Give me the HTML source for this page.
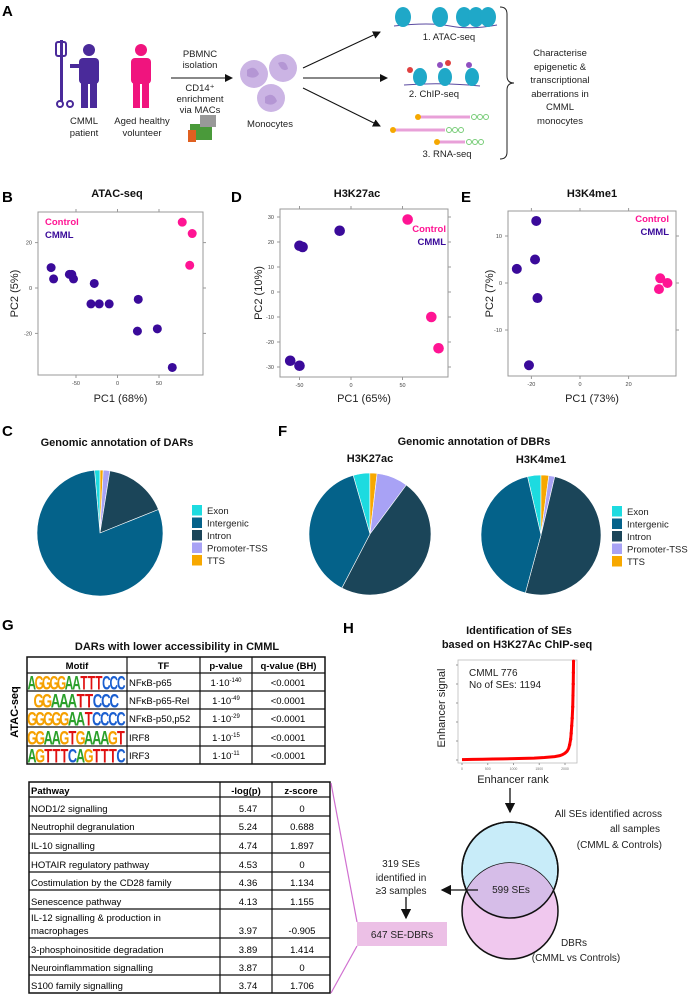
<!DOCTYPE html>
<html><head><meta charset="utf-8">
<style>
html,body{margin:0;padding:0;background:#fff;}
svg{display:block;font-family:"Liberation Sans",Arial,sans-serif;}
.lbl{font-weight:bold;font-size:15px;fill:#000;}
.t9{font-size:9.5px;fill:#222;}
.ttl{font-size:11px;font-weight:bold;fill:#111;}
.tick{font-size:5.5px;fill:#444;}
.ax{font-size:11px;fill:#222;}
</style></head>
<body>
<svg id="fig" width="689" height="995" viewBox="0 0 689 995" xmlns="http://www.w3.org/2000/svg">
<defs>
<marker id="ah" markerWidth="8" markerHeight="8" refX="7" refY="4" orient="auto"><path d="M0,0 L8,4 L0,8 z" fill="#111"/></marker>
</defs>

<g>
<text class="lbl" x="2" y="16">A</text>
<g fill="#4a2a9a">
<rect x="60" y="40" width="3" height="62"/><rect x="56" y="42" width="10" height="14" rx="2" fill="none" stroke="#4a2a9a" stroke-width="2"/>
<circle cx="60" cy="104" r="3" fill="none" stroke="#4a2a9a" stroke-width="2"/><circle cx="70" cy="104" r="3" fill="none" stroke="#4a2a9a" stroke-width="2"/>
<circle cx="89" cy="50" r="6"/><rect x="79" y="58" width="20" height="26" rx="4"/><rect x="81" y="82" width="7" height="26"/><rect x="90" y="82" width="7" height="26"/><rect x="70" y="64" width="12" height="4"/>
</g>
<g fill="#f0147e">
<circle cx="141" cy="50" r="6"/><rect x="131" y="58" width="20" height="26" rx="4"/><rect x="133" y="82" width="7" height="26"/><rect x="142" y="82" width="7" height="26"/>
</g>
<text class="t9" x="84" y="124" text-anchor="middle">CMML</text><text class="t9" x="84" y="136" text-anchor="middle">patient</text>
<text class="t9" x="142" y="124" text-anchor="middle">Aged healthy</text><text class="t9" x="142" y="136" text-anchor="middle">volunteer</text>
<text class="t9" x="200" y="57" text-anchor="middle">PBMNC</text><text class="t9" x="200" y="68" text-anchor="middle">isolation</text>
<line x1="171" y1="78" x2="232" y2="78" stroke="#111" stroke-width="1" marker-end="url(#ah)"/>
<text class="t9" x="200" y="91" text-anchor="middle">CD14⁺</text><text class="t9" x="200" y="102" text-anchor="middle">enrichment</text><text class="t9" x="200" y="113" text-anchor="middle">via MACs</text>
<g><rect x="190" y="124" width="22" height="16" fill="#4a9a3a"/><rect x="200" y="115" width="16" height="12" fill="#999"/><rect x="188" y="130" width="8" height="12" fill="#e06020"/></g>
<g fill="#cbb4e4">
<circle cx="254" cy="74" r="14"/><circle cx="283" cy="68" r="14"/><circle cx="271" cy="98" r="14"/>
<path d="M247,70 q8,-6 12,4 q-4,6 -12,2z" fill="#b496d4"/><path d="M278,63 q8,-4 10,6 q-6,4 -10,-6z" fill="#b496d4"/><path d="M265,97 q8,-6 12,4 q-4,6 -12,2z" fill="#b496d4"/>
</g>
<text class="t9" x="270" y="127" text-anchor="middle">Monocytes</text>
<line x1="303" y1="68" x2="380" y2="32" stroke="#111" marker-end="url(#ah)"/>
<line x1="303" y1="78" x2="387" y2="78" stroke="#111" marker-end="url(#ah)"/>
<line x1="303" y1="88" x2="380" y2="126" stroke="#111" marker-end="url(#ah)"/>
<g>
<path d="M394,26 Q430,22 450,26 T497,25" stroke="#5a4aa0" fill="none"/>
<ellipse cx="403" cy="17" rx="8" ry="10" fill="#1fa8c8"/><ellipse cx="440" cy="17" rx="8" ry="10" fill="#1fa8c8"/><ellipse cx="464" cy="17" rx="8" ry="10" fill="#1fa8c8"/><ellipse cx="476" cy="17" rx="8" ry="10" fill="#1fa8c8"/><ellipse cx="488" cy="17" rx="8" ry="10" fill="#1fa8c8"/>
</g>
<text class="t9" x="449" y="40" text-anchor="middle">1.  ATAC-seq</text>
<g>
<path d="M404,85 Q440,82 480,86" stroke="#5a4aa0" fill="none"/>
<ellipse cx="420" cy="77" rx="7" ry="9" fill="#1fa8c8"/><ellipse cx="445" cy="77" rx="7" ry="9" fill="#1fa8c8"/><ellipse cx="472" cy="77" rx="7" ry="9" fill="#1fa8c8"/>
<circle cx="410" cy="70" r="3" fill="#e04040"/><circle cx="440" cy="65" r="3" fill="#9050c0"/><circle cx="448" cy="63" r="3" fill="#e04040"/><circle cx="469" cy="65" r="3" fill="#9050c0"/>
</g>
<text class="t9" x="434" y="97" text-anchor="middle">2. ChIP-seq</text>
<g>
<line x1="418" y1="117" x2="470" y2="117" stroke="#e8a0d8" stroke-width="3"/><circle cx="418" cy="117" r="3" fill="#f5a800"/><circle cx="474" cy="117" r="2.5" fill="none" stroke="#7c7"/><circle cx="480" cy="117" r="2.5" fill="none" stroke="#7c7"/><circle cx="486" cy="117" r="2.5" fill="none" stroke="#7c7"/>
<line x1="393" y1="130" x2="445" y2="130" stroke="#e8a0d8" stroke-width="3"/><circle cx="393" cy="130" r="3" fill="#f5a800"/><circle cx="449" cy="130" r="2.5" fill="none" stroke="#7c7"/><circle cx="455" cy="130" r="2.5" fill="none" stroke="#7c7"/><circle cx="461" cy="130" r="2.5" fill="none" stroke="#7c7"/>
<line x1="437" y1="142" x2="465" y2="142" stroke="#e8a0d8" stroke-width="3"/><circle cx="437" cy="142" r="3" fill="#f5a800"/><circle cx="469" cy="142" r="2.5" fill="none" stroke="#7c7"/><circle cx="475" cy="142" r="2.5" fill="none" stroke="#7c7"/><circle cx="481" cy="142" r="2.5" fill="none" stroke="#7c7"/>
</g>
<text class="t9" x="447" y="157" text-anchor="middle">3. RNA-seq</text>
<path d="M500,7 Q507,7 507,14 L507,76 Q507,83 514,83 Q507,83 507,90 L507,152 Q507,159 500,159" fill="none" stroke="#222" stroke-width="1"/>
<g>
<text class="t9" x="560" y="56" text-anchor="middle">Characterise</text><text class="t9" x="560" y="70" text-anchor="middle">epigenetic &amp;</text><text class="t9" x="560" y="83" text-anchor="middle">transcriptional</text><text class="t9" x="560" y="97" text-anchor="middle">aberrations in</text><text class="t9" x="560" y="110" text-anchor="middle">CMML</text><text class="t9" x="560" y="124" text-anchor="middle">monocytes</text>
</g>
</g>

<text class="lbl" x="2" y="202">B</text>
<text class="lbl" x="231" y="202">D</text>
<text class="lbl" x="461" y="202">E</text>
<text class="lbl" x="2" y="436">C</text>
<text class="lbl" x="278" y="436">F</text>
<text class="lbl" x="2" y="630">G</text>
<text class="lbl" x="343" y="633">H</text>

<g id="scatters"></g>
<g id="pies"></g>

<text class="ttl" x="177" y="650" text-anchor="middle">DARs with lower accessibility in CMML</text>
<text x="18" y="712" transform="rotate(-90 18 712)" text-anchor="middle" style="font-size:11px;font-weight:bold">ATAC-seq</text>
<g id="motifTable"></g>
<g id="pathTable"></g>

<text class="ttl" x="519" y="634" text-anchor="middle">Identification of SEs</text>
<text class="ttl" x="517" y="648" text-anchor="middle">based on H3K27Ac ChIP-seq</text>
<g id="enh"></g>
<line x1="510" y1="788" x2="510" y2="812" stroke="#111" stroke-width="1.3" marker-end="url(#ah)"/>
<g>
<circle cx="510" cy="870" r="48" fill="#c8ecf9" stroke="#111" stroke-width="1.5"/>
<circle cx="510" cy="911" r="48" fill="#f0c8ee" stroke="#111" stroke-width="1.5"/>
<clipPath id="vc"><circle cx="510" cy="870" r="48"/></clipPath>
<circle cx="510" cy="911" r="48" fill="#d6bde8" clip-path="url(#vc)"/>
<circle cx="510" cy="870" r="48" fill="none" stroke="#111" stroke-width="1.5"/>
<text class="t9" x="511" y="893" text-anchor="middle" style="font-size:10px">599 SEs</text>
<text class="t9" x="662" y="817" text-anchor="end" style="font-size:10px">All SEs identified across</text>
<text class="t9" x="660" y="832" text-anchor="end" style="font-size:10px">all samples</text>
<text class="t9" x="662" y="848" text-anchor="end" style="font-size:10px">(CMML &amp; Controls)</text>
<text class="t9" x="574" y="946" text-anchor="middle" style="font-size:10px">DBRs</text>
<text class="t9" x="576" y="961" text-anchor="middle" style="font-size:10px">(CMML vs Controls)</text>
</g>
<line x1="478" y1="890" x2="442" y2="890" stroke="#111" stroke-width="1.3" marker-end="url(#ah)"/>
<text class="t9" x="401" y="867" text-anchor="middle" style="font-size:10px">319 SEs</text>
<text class="t9" x="401" y="881" text-anchor="middle" style="font-size:10px">identified in</text>
<text class="t9" x="401" y="894" text-anchor="middle" style="font-size:10px">≥3 samples</text>
<line x1="406" y1="897" x2="406" y2="918" stroke="#111" stroke-width="1.3" marker-end="url(#ah)"/>
<rect x="357" y="922" width="90" height="24" fill="#ecc0e6"/>
<text class="t9" x="402" y="938" text-anchor="middle" style="font-size:10px">647 SE-DBRs</text>
<line x1="331" y1="783" x2="357" y2="922" stroke="#d070d0" stroke-width="1.2"/>
<line x1="331" y1="993" x2="357" y2="946" stroke="#d070d0" stroke-width="1.2"/>
</svg>

<script>
var NS="http://www.w3.org/2000/svg";
function mk(parent,tag,attrs,text){var e=document.createElementNS(NS,tag);for(var k in attrs)e.setAttribute(k,attrs[k]);if(text!==undefined)e.textContent=text;parent.appendChild(e);return e;}

var atacCmmlPC1=[-80,-77,-58,-55,-53,-28,-32,-22,-10,25,24,48,66];
var atacCmmlPC2=[9,4,6,6,4,2,-7,-7,-7,-5,-19,-18,-35];
var atacCtrlPC1=[78,90,87];
var atacCtrlPC2=[29,24,10];
var k27CmmlPC1=[-50,-47,-11,-59,-50];
var k27CmmlPC2=[18.5,18,24.5,-27.5,-29.5];
var k27CtrlPC1=[55,78,85];
var k27CtrlPC2=[29,-10,-22.5];
var k4CmmlPC1=[-18,-18.5,-26,-17.5,-21];
var k4CmmlPC2=[13.2,5,3,-3.2,-17.5];
var k4CtrlPC1=[33,36,32.5];
var k4CtrlPC2=[1,0,-1.3];
var atacXTicks=[-50,0,50], atacYTicks=[-20,0,20];
var k27XTicks=[-50,0,50], k27YTicks=[-30,-20,-10,0,10,20,30];
var k4XTicks=[-20,0,20], k4YTicks=[-10,0,10];

function scatter(cfg){
  var g=mk(document.getElementById('scatters'),'g',{});
  
  
  var b=cfg.box;
  function sx(v){return cfg.x0+v*cfg.kx;}
  function sy(v){return cfg.y0-v*cfg.ky;}
  var t=mk(g,'text',{x:cfg.tx,y:197,'text-anchor':'middle','class':'ttl'},cfg.title);
  
  
  mk(g,'rect',{x:b[0],y:b[1],width:b[2]-b[0],height:b[3]-b[1],fill:'none',stroke:'#999','stroke-width':1});
  cfg.xt.forEach(function(v){var x=sx(v);
    mk(g,'line',{x1:x,y1:b[3],x2:x,y2:b[3]+3,stroke:'#999'});
    mk(g,'line',{x1:x,y1:b[1],x2:x,y2:b[1]-3,stroke:'#999'});
    mk(g,'text',{x:x,y:b[3]+10,'text-anchor':'middle','class':'tick'},String(v));});
  cfg.yt.forEach(function(v){var y=sy(v);
    mk(g,'line',{x1:b[0],y1:y,x2:b[0]-3,y2:y,stroke:'#999'});
    mk(g,'line',{x1:b[2],y1:y,x2:b[2]+3,y2:y,stroke:'#999'});
    mk(g,'text',{x:b[0]-6,y:y+2,'text-anchor':'end','class':'tick'},String(v));});
  var xl=mk(g,'text',{x:(b[0]+b[2])/2,y:402,'text-anchor':'middle','class':'ax'},cfg.xlab);
  
  
  var yx=cfg.ylx, yy=(b[1]+b[3])/2;
  var yl=mk(g,'text',{x:yx,y:yy,'text-anchor':'middle','class':'ax',transform:'rotate(-90 '+yx+' '+yy+')'},cfg.ylab);
  
  
  cfg.cx.forEach(function(v,i){var c=mk(g,'circle',{cx:sx(v),cy:sy(cfg.cy[i]),r:cfg.r,fill:'#3a0a9a'});
    
    });
  cfg.kxs.forEach(function(v,i){var c=mk(g,'circle',{cx:sx(v),cy:sy(cfg.kys[i]),r:cfg.r,fill:'#ff1493'});
    
    });
  var l1=mk(g,'text',{x:cfg.lx,y:cfg.ly,'text-anchor':cfg.la,style:'font-size:9.5px;font-weight:bold;fill:#ff1493'},'Control');
  
  
  var l2=mk(g,'text',{x:cfg.lx,y:cfg.ly+13,'text-anchor':cfg.la,style:'font-size:9.5px;font-weight:bold;fill:#3a0a9a'},'CMML');
  
  
}
scatter({name:'atac-pca',title:'ATAC-seq',tx:117,box:[38,212,203,375],x0:117.5,kx:0.83,y0:288,ky:2.27,xt:atacXTicks,yt:atacYTicks,xlab:'PC1 (68%)',ylab:'PC2 (5%)',ylx:18,cx:atacCmmlPC1,cy:atacCmmlPC2,kxs:atacCtrlPC1,kys:atacCtrlPC2,r:4.5,lx:45,ly:225,la:'start'});
scatter({name:'h3k27ac-pca',title:'H3K27ac',tx:357,box:[280,209,448,377],x0:351,kx:1.03,y0:292,ky:2.5,xt:k27XTicks,yt:k27YTicks,xlab:'PC1 (65%)',ylab:'PC2 (10%)',ylx:262,cx:k27CmmlPC1,cy:k27CmmlPC2,kxs:k27CtrlPC1,kys:k27CtrlPC2,r:5.3,lx:446,ly:232,la:'end'});
scatter({name:'h3k4me1-pca',title:'H3K4me1',tx:592,box:[508,211,676,376],x0:580,kx:2.43,y0:283,ky:4.7,xt:k4XTicks,yt:k4YTicks,xlab:'PC1 (73%)',ylab:'PC2 (7%)',ylx:493,cx:k4CmmlPC1,cy:k4CmmlPC2,kxs:k4CtrlPC1,kys:k4CtrlPC2,r:5,lx:669,ly:222,la:'end'});

var annotCategories=['Exon','Intergenic','Intron','Promoter-TSS','TTS'];
var annotColors=['#1ddbe0','#04628a','#1b4559','#a8a2f5','#f7a800'];
var darPct=[1.4,79.7,16.4,1.7,0.8];
var k27Pct=[4.4,37.9,47.5,8.3,1.9];
var k4Pct=[3.6,42.2,50.5,1.6,2.1];
var drawOrder=[0,4,3,2,1];

function pie(cfg){
  var g=mk(document.getElementById('pies'),'g',{});
  
  
  var total=cfg.vals.reduce(function(a,b){return a+b;},0);
  var a=cfg.start*Math.PI/180;
  drawOrder.forEach(function(i){
    var sweep=cfg.vals[i]/total*2*Math.PI;
    var x1=cfg.cx+cfg.r*Math.sin(a),y1=cfg.cy-cfg.r*Math.cos(a);
    var a2=a+sweep;
    var x2=cfg.cx+cfg.r*Math.sin(a2),y2=cfg.cy-cfg.r*Math.cos(a2);
    var p=mk(g,'path',{d:'M'+cfg.cx+','+cfg.cy+' L'+x1+','+y1+' A'+cfg.r+','+cfg.r+' 0 '+(sweep>Math.PI?1:0)+' 1 '+x2+','+y2+' Z',fill:annotColors[i],stroke:'#fff','stroke-width':0.6});
    
    
    a=a2;
  });
  if(cfg.sub){var s=mk(g,'text',{x:cfg.cx,y:cfg.cy-72,'text-anchor':'middle','class':'ttl'},cfg.sub);
    
    }
}
function legend(x,y){
  var g=mk(document.getElementById('pies'),'g',{});
  
  
  annotCategories.forEach(function(c,i){
    var e=mk(g,'g',{});
    
    
    mk(e,'rect',{x:x,y:y+i*12.5-5,width:10,height:10.5,fill:annotColors[i]});
    mk(e,'text',{x:x+15,y:y+i*12.5+4,style:'font-size:9.5px;fill:#222'},c);
  });
}
var ct=mk(document.getElementById('pies'),'text',{x:117,y:446,'text-anchor':'middle','class':'ttl'},'Genomic annotation of DARs');


var ft=mk(document.getElementById('pies'),'text',{x:474,y:445,'text-anchor':'middle','class':'ttl'},'Genomic annotation of DBRs');


pie({name:'dar-pie',vals:darPct,cx:100,cy:533,r:63,start:-5});
pie({name:'h3k27ac-pie',vals:k27Pct,cx:370,cy:534,r:61,start:-16,sub:'H3K27ac'});
pie({name:'h3k4me1-pie',vals:k4Pct,cx:541,cy:535,r:60,start:-13,sub:'H3K4me1'});
legend(192,510);
legend(612,511);

var motifSeqs=['AGGGGAATTTCCC','GGAAATTCCC','GGGGGAATCCCC','GGAAGTGAAAGT','AGTTTCAGTTTC'];
var motifTFs=['NFκB-p65','NFκB-p65-Rel','NFκB-p50,p52','IRF8','IRF3'];
var motifExp=['-140','-49','-29','-15','-11'];
var motifQ=['<0.0001','<0.0001','<0.0001','<0.0001','<0.0001'];
(function(){
  var g=document.getElementById('motifTable');
  var cols=[27,127,200,252,325], rows=[657,673,691,709,727,746,764];
  mk(g,'rect',{x:27,y:657,width:298,height:107,fill:'#fff',stroke:'#111','stroke-width':1.5});
  rows.slice(1,-1).forEach(function(y){mk(g,'line',{x1:27,y1:y,x2:325,y2:y,stroke:'#111','stroke-width':1.2});});
  cols.slice(1,-1).forEach(function(x){mk(g,'line',{x1:x,y1:657,x2:x,y2:764,stroke:'#111','stroke-width':1.2});});
  ['Motif','TF','p-value','q-value (BH)'].forEach(function(h,i){mk(g,'text',{x:(cols[i]+cols[i+1])/2,y:669,'text-anchor':'middle',style:'font-size:9.5px;font-weight:bold'},h);});
  var col={A:'#2aa02a',C:'#1a5fd0',G:'#f5a000',T:'#e01010'};
  motifSeqs.forEach(function(s,r){
    var y1=rows[r+2];
    var n=s.length, w=(n<=10?84:97), cw=w/n, x0=28+(97-w)/2;
    var mg=mk(g,'g',{});
    
    
    var sxs=cw/12;
    for(var i=0;i<n;i++){
      mk(mg,'text',{x:0,y:0,'text-anchor':'middle',style:'font-size:19px;font-weight:bold;fill:'+col[s[i]],transform:'translate('+(x0+cw*i+cw/2)+','+(y1-1.5)+') scale('+sxs+',1)'},s[i]);
    }
    mk(g,'text',{x:129,y:y1-5,style:'font-size:9.5px'},motifTFs[r]);
    var pv=mk(g,'text',{x:226,y:y1-5,'text-anchor':'middle',style:'font-size:9.5px'},'1·10');
    mk(pv,'tspan',{dy:-4,style:'font-size:6px'},motifExp[r]);
    mk(g,'text',{x:288,y:y1-5,'text-anchor':'middle',style:'font-size:9.5px'},motifQ[r]);
  });
})();

var pathNames=['NOD1/2 signalling','Neutrophil degranulation','IL-10 signalling','HOTAIR regulatory pathway','Costimulation by the CD28 family','Senescence pathway','IL-12 signalling & production in|macrophages','3-phosphoinositide degradation','Neuroinflammation signalling','S100 family signalling'];
var pathLogP=['5.47','5.24','4.74','4.53','4.36','4.13','3.97','3.89','3.87','3.74'];
var pathZ=['0','0.688','1.897','0','1.134','1.155','-0.905','1.414','0','1.706'];
(function(){
  var g=document.getElementById('pathTable');
  var rows=[782,797,816,834,853,872,890,909,938,957,975,993];
  var cols=[29,220,272,330];
  mk(g,'rect',{x:29,y:782,width:301,height:211,fill:'#fff',stroke:'#111','stroke-width':1.5});
  rows.slice(1,-1).forEach(function(y){mk(g,'line',{x1:29,y1:y,x2:330,y2:y,stroke:'#111','stroke-width':1.2});});
  cols.slice(1,-1).forEach(function(x){mk(g,'line',{x1:x,y1:782,x2:x,y2:993,stroke:'#111','stroke-width':1.2});});
  mk(g,'text',{x:31,y:794,style:'font-size:9.5px;font-weight:bold'},'Pathway');
  mk(g,'text',{x:246,y:794,'text-anchor':'middle',style:'font-size:9.5px;font-weight:bold'},'-log(p)');
  mk(g,'text',{x:301,y:794,'text-anchor':'middle',style:'font-size:9.5px;font-weight:bold'},'z-score');
  pathNames.forEach(function(n,i){
    var yb=rows[i+2]-4, parts=n.split('|');
    if(parts.length>1){mk(g,'text',{x:31,y:yb-13,style:'font-size:9.5px'},parts[0]);mk(g,'text',{x:31,y:yb,style:'font-size:9.5px'},parts[1]);}
    else mk(g,'text',{x:31,y:yb,style:'font-size:9.5px'},n);
    mk(g,'text',{x:248,y:yb,'text-anchor':'middle',style:'font-size:9.5px'},pathLogP[i]);
    mk(g,'text',{x:302,y:yb,'text-anchor':'middle',style:'font-size:9.5px'},pathZ[i]);
  });
})();

var enhRank=[0,200,400,600,800,1000,1200,1400,1600,1800,1900,1950,2000,2040,2070,2090,2110,2120,2130,2140,2150,2155,2160,2163,2166];
var enhSignal=[100,150,200,250,300,350,420,500,650,900,1150,1400,1800,2300,3000,4000,5500,7000,9000,11000,14000,17000,20000,23000,26000];
var enhXTicks=[0,500,1000,1500,2000];
var enhYTicks=[0,5000,10000,15000,20000,25000];
(function(){
  var g=document.getElementById('enh');
  function sx(v){return 462+v*0.0515;}
  function sy(v){return 760-v*0.0038;}
  mk(g,'rect',{x:458,y:660,width:119,height:103,fill:'none',stroke:'#bbb','stroke-width':0.8});
  enhXTicks.forEach(function(v){mk(g,'line',{x1:sx(v),y1:763,x2:sx(v),y2:765,stroke:'#999'});mk(g,'text',{x:sx(v),y:770,'text-anchor':'middle',style:'font-size:3.5px;fill:#777'},String(v));});
  enhYTicks.forEach(function(v){mk(g,'line',{x1:456,y1:sy(v),x2:458,y2:sy(v),stroke:'#999'});});
  var pts=enhRank.map(function(r,i){return sx(r)+','+sy(enhSignal[i]);}).join(' ');
  var pl=mk(g,'polyline',{points:pts,fill:'none',stroke:'#f00','stroke-width':3});
  
  
  enhRank.forEach(function(r,i){if(enhSignal[i]>3000){var c=mk(g,'circle',{cx:sx(r),cy:sy(enhSignal[i]),r:1.6,fill:'#f00'});
    
    }});
  mk(g,'text',{x:469,y:676,style:'font-size:10px;fill:#222'},'CMML 776');
  mk(g,'text',{x:469,y:688,style:'font-size:10px;fill:#222'},'No of SEs: 1194');
  var xl=mk(g,'text',{x:513,y:783,'text-anchor':'middle',style:'font-size:11px;fill:#222'},'Enhancer rank');
  
  
  var yl=mk(g,'text',{x:445,y:708,'text-anchor':'middle',transform:'rotate(-90 445 708)',style:'font-size:11px;fill:#222'},'Enhancer signal');
  
  
})();
</script>
</body></html>
